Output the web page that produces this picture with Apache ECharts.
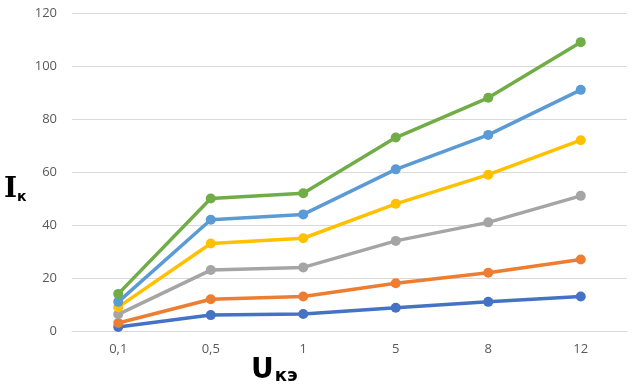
<!DOCTYPE html>
<html><head><meta charset="utf-8">
<script src="https://cdn.jsdelivr.net/npm/echarts@6/dist/echarts.min.js"></script>
<style>html,body{margin:0;padding:0;background:#fff}#c{width:640px;height:388px}</style>
</head><body><div id="c"></div>
<script>
var categories = ['0,1', '0,5', '1', '5', '8', '12'];
var yTicks = [0, 20, 40, 60, 80, 100, 120];
var s1 = [1.5, 6, 6.4, 8.8, 11, 13];
var s2 = [3, 12, 13, 18, 22, 27];
var s3 = [6.3, 23, 24, 34, 41, 51];
var s4 = [9, 33, 35, 48, 59, 72];
var s5 = [11, 42, 44, 61, 74, 91];
var s6 = [14, 50, 52, 73, 88, 109];
var colors = ['#4472C4', '#ED7D31', '#A5A5A5', '#FFC000', '#5B9BD5', '#70AD47'];
var seriesData = [s1, s2, s3, s4, s5, s6];

var chart = echarts.init(document.getElementById('c'), null, {renderer: 'canvas'});
chart.setOption({
  animation: false,
  grid: {left: 72, right: 13, top: 13, bottom: 57},
  xAxis: {
    type: 'category', data: categories, boundaryGap: true,
    axisLine: {lineStyle: {color: '#D9D9D9'}},
    axisTick: {show: false},
    axisLabel: {color: '#595959', fontSize: 13, fontFamily: 'Open Sans', margin: 12}
  },
  yAxis: {
    type: 'value', min: yTicks[0], max: yTicks[yTicks.length - 1], interval: 20,
    axisLine: {show: false}, axisTick: {show: false},
    splitLine: {lineStyle: {color: '#D9D9D9', width: 1}},
    axisLabel: {color: '#595959', fontSize: 13, fontFamily: 'Open Sans', margin: 15}
  },
  graphic: [
    {type: 'text', left: 4, top: 176, style: {
      text: '{a|I}{b|к}',
      rich: {
        a: {fontSize: 28, fontWeight: 'bold', fontFamily: 'DejaVu Serif', fill: '#000'},
        b: {fontSize: 14, fontWeight: 'bold', fontFamily: 'DejaVu Sans', fill: '#000', verticalAlign: 'bottom', padding: [10, 0, 0, 0]}
      }
    }},
    {type: 'text', left: 251, top: 357, style: {
      text: '{a|U}{b|кэ}',
      rich: {
        a: {fontSize: 28, fontWeight: 'bold', fontFamily: 'DejaVu Sans', fill: '#000'},
        b: {fontSize: 18, fontWeight: 'bold', fontFamily: 'DejaVu Sans', fill: '#000', verticalAlign: 'bottom', padding: [10, 0, 0, 1]}
      }
    }}
  ],
  series: seriesData.map(function (d, i) {
    return {
      type: 'line', data: d, symbol: 'circle', symbolSize: 10,
      lineStyle: {color: colors[i], width: 3.5},
      itemStyle: {color: colors[i]}
    };
  })
});
</script></body></html>
